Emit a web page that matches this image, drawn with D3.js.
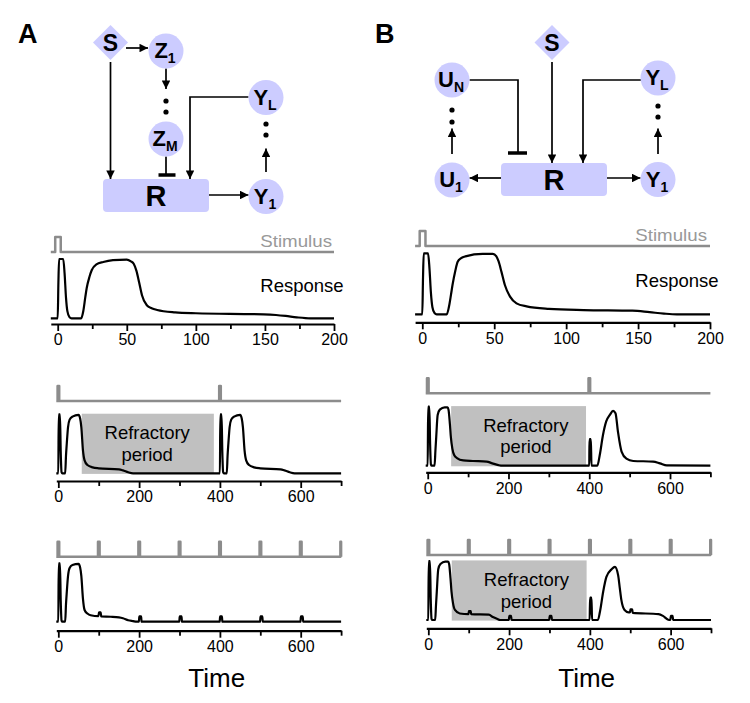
<!DOCTYPE html>
<html>
<head>
<meta charset="utf-8">
<script src="https://cdn.jsdelivr.net/npm/d3@7"></script>
<style>
  body { margin: 0; background: #fff; }
  svg { display: block; font-family: "Liberation Sans", Arial, sans-serif; }
</style>
</head>
<body>
<div class="canvas"></div>
<script>
// tick values of the two time scales
const shortMajorTicks = [0, 50, 100, 150, 200];
const shortMinorTicks = [25, 75, 125, 175];
const longMajorTicks = [0, 200, 400, 600];
const longMinorTicks = [100, 300, 500, 700];

// stimulus pulse onsets and pulse length (time units)
const pulsesSingle = [0];
const pulsesPair = [0, 400];
const pulsesTrain = [0, 100, 200, 300, 400, 500, 600, 700];
const pulseSpan = [-1.8, 2.2];

// responses, [time, normalised level]
const responseA1 = [[-5,0],[0,0],[0.5,0.6],[1,1],[4,1],[5,0.75],[6,0.35],[7,0.12],[8.5,0.02],[10,0],[17,0],[18.5,0.12],[20,0.36],[21,0.51],[23,0.7],[24.6,0.81],[28,0.91],[33,0.95],[40,0.98],[50,0.99],[53,0.96],[55,0.92],[57,0.8],[59,0.6],[61,0.39],[64.5,0.22],[68,0.17],[72,0.14],[85,0.1],[100,0.085],[149,0.067],[158,0.056],[165,0.04],[173,0.017],[183,0],[200,0]];
const responseB1 = [[-5,0],[0,0],[0.5,0.6],[1,1],[4,1],[5,0.75],[6,0.35],[7,0.12],[8.5,0.02],[10,0],[17,0],[18.5,0.12],[20,0.33],[21,0.48],[23,0.72],[24.6,0.86],[27,0.92],[30,0.95],[42,0.99],[49,0.99],[51.5,0.95],[53,0.87],[55,0.7],[57.4,0.48],[61,0.29],[65.5,0.18],[72.5,0.13],[88,0.09],[112,0.07],[146,0.06],[158,0.035],[168,0.012],[177,0],[200,0]];
const responseA2 = [[-5,0],[0,0],[1,1],[4,1],[6,0.35],[8,0.02],[10,0],[17,0],[19,0.3],[21,0.51],[24,0.78],[28,0.91],[35,0.96],[50,0.99],[54,0.93],[57,0.78],[61,0.39],[65,0.22],[72,0.14],[85,0.1],[100,0.085],[150,0.067],[160,0.05],[173,0.017],[185,0],[400,0],[401,1],[404,1],[406,0.35],[408,0.02],[410,0],[417,0],[419,0.3],[421,0.51],[424,0.78],[428,0.91],[435,0.96],[450,0.99],[454,0.93],[457,0.78],[461,0.39],[465,0.22],[472,0.14],[485,0.1],[500,0.085],[550,0.067],[560,0.05],[573,0.017],[585,0],[700,0]];
const responseB2 = [[-5,0],[0,0],[1,1],[4,1],[6,0.35],[8,0.02],[10,0],[17,0],[19,0.25],[21,0.48],[24.6,0.86],[30,0.95],[42,0.99],[49,0.99],[51.5,0.95],[55,0.7],[57.4,0.48],[61,0.29],[65.5,0.18],[72.5,0.13],[88,0.09],[112,0.08],[146,0.07],[160,0.04],[175,0.01],[185,0],[400,0],[400.5,0.45],[404,0.45],[405.5,0],[420,0],[426,0.18],[434,0.52],[442,0.75],[451,0.86],[459,0.93],[465,0.89],[471,0.58],[480,0.24],[492,0.12],[509,0.08],[558,0.07],[575,0.04],[592,0.005],[700,0]];
const responseA3 = [[-5,0],[0,0],[1,1],[4,1],[6,0.35],[8,0.02],[10,0],[17,0],[19,0.3],[21,0.51],[24,0.78],[28,0.92],[35,0.97],[50,0.99],[54,0.93],[57,0.78],[61,0.39],[65,0.2],[72,0.14],[80,0.11],[99.5,0.095],[100.5,0.16],[105,0.16],[106,0.09],[130,0.085],[150,0.075],[160,0.06],[173,0.025],[185,0.01],[194,0],[199.5,0],[200.5,0.09],[205,0.09],[206,0],[299.5,0],[300.5,0.09],[305,0.09],[306,0],[399.5,0],[400.5,0.09],[405,0.09],[406,0],[499.5,0],[500.5,0.09],[505,0.09],[506,0],[599.5,0],[600.5,0.09],[605,0.09],[606,0],[700,0]];
const responseB3 = [[-5,0],[0,0],[1,1],[4,1],[6,0.35],[8,0.02],[10,0],[17,0],[19,0.25],[21,0.48],[24.6,0.86],[30,0.95],[42,0.99],[49,0.99],[51.5,0.95],[55,0.7],[57.4,0.48],[61,0.29],[66,0.17],[78,0.11],[99.5,0.1],[100.5,0.15],[105,0.15],[106,0.1],[150,0.09],[160,0.05],[170,0.02],[178,0],[199.5,0],[200.5,0.07],[205,0.07],[206,0],[299.5,0],[300.5,0.07],[305,0.07],[306,0],[399.5,0],[400.5,0.38],[404,0.38],[405.5,0],[420,0],[425,0.14],[433,0.48],[441,0.73],[454,0.86],[462,0.9],[470,0.76],[474,0.55],[478,0.34],[486,0.17],[496,0.13],[499.5,0.13],[500.5,0.18],[505,0.18],[506,0.12],[570,0.1],[581,0.07],[594,0.005],[599.5,0],[600.5,0.07],[605,0.07],[606,0],[700,0]];

// refractory periods (time)
const refractoryA2 = [58, 385];
const refractoryB2 = [58, 392];
const refractoryB3 = [58, 392];

const svg = d3.select('.canvas')
  .append('svg')
  .attr('width', 750)
  .attr('height', 703);

const defs = svg.append('defs');
defs.append('marker')
  .attr('id', 'arrow')
  .attr('viewBox', '0 0 10 10')
  .attr('refX', 10)
  .attr('refY', 5)
  .attr('markerWidth', 9)
  .attr('markerHeight', 8.5)
  .attr('markerUnits', 'userSpaceOnUse')
  .attr('orient', 'auto')
  .append('path')
  .attr('d', 'M0,0L10,5L0,10Z')
  .attr('fill', '#000');

const lavender = '#ccccff';

// ---------- network diagrams ----------
const diagrams = [
  {
    letter: 'A', letterX: 18, rect: [103, 179, 106, 33],
    nodes: [
      { shape: 'diamond', label: 'S', x: 110.5, y: 42.5 },
      { label: 'Z', sub: '1', x: 166, y: 51 },
      { label: 'Z', sub: 'M', x: 166, y: 139 },
      { label: 'Y', sub: 'L', x: 266, y: 97.5 },
      { label: 'Y', sub: '1', x: 266, y: 196.5 }
    ],
    arrows: [
      [[126, 48], [148, 48]],
      [[166, 68.5], [166, 89]],
      [[110.5, 62], [110.5, 179]],
      [[248.5, 97], [190, 97], [190, 179]],
      [[209, 195], [248.5, 195]],
      [[266, 172], [266, 148.5]]
    ],
    inhibits: [ { path: [[166, 156.5], [166, 175]], bar: [158.5, 175.5] } ],
    dots: [[166, 101], [166, 112], [266, 124], [266, 135]]
  },
  {
    letter: 'B', letterX: 375, rect: [501, 163, 106, 33],
    nodes: [
      { shape: 'diamond', label: 'S', x: 552, y: 42.5 },
      { label: 'U', sub: 'N', x: 452, y: 80 },
      { label: 'U', sub: '1', x: 452, y: 180 },
      { label: 'Y', sub: 'L', x: 658, y: 78 },
      { label: 'Y', sub: '1', x: 658, y: 179.5 }
    ],
    arrows: [
      [[552, 62], [552, 163]],
      [[641, 80], [583, 80], [583, 163]],
      [[501, 178], [469.5, 178]],
      [[607, 178], [640.5, 178]],
      [[452, 154], [452, 128.5]],
      [[658, 154], [658, 128.5]]
    ],
    inhibits: [ { path: [[469.5, 80], [518, 80], [518, 153]], bar: [508, 527] } ],
    dots: [[452, 110], [452, 122], [658, 106], [658, 117]]
  }
];

const segLine = d3.line();

diagrams.forEach(dg => {
  const g = svg.append('g');

  g.append('text')
    .attr('x', dg.letterX)
    .attr('y', 43)
    .attr('font-size', 27)
    .attr('font-weight', 'bold')
    .text(dg.letter);

  g.selectAll('.arr')
    .data(dg.arrows)
    .enter()
    .append('path')
    .attr('d', d => segLine(d))
    .attr('fill', 'none')
    .attr('stroke', '#000')
    .attr('stroke-width', 1.7);

  // arrowheads drawn as markers on the same paths
  g.selectAll('.arr-head')
    .data(dg.arrows)
    .enter()
    .append('path')
    .attr('d', d => segLine(d.slice(-2)))
    .attr('fill', 'none')
    .attr('stroke', 'none')
    .attr('marker-end', 'url(#arrow)');

  dg.inhibits.forEach(inh => {
    g.append('path')
      .attr('d', segLine(inh.path))
      .attr('fill', 'none')
      .attr('stroke', '#000')
      .attr('stroke-width', 1.7);
    const end = inh.path[inh.path.length - 1];
    g.append('line')
      .attr('x1', inh.bar[0]).attr('x2', inh.bar[1])
      .attr('y1', end[1]).attr('y2', end[1])
      .attr('stroke', '#000')
      .attr('stroke-width', 3.5);
  });

  g.selectAll('.dot')
    .data(dg.dots)
    .enter()
    .append('circle')
    .attr('cx', d => d[0])
    .attr('cy', d => d[1])
    .attr('r', 2.6)
    .attr('fill', '#000');

  const [rx, ry, rw, rh] = dg.rect;
  g.append('rect')
    .attr('x', rx).attr('y', ry)
    .attr('width', rw).attr('height', rh)
    .attr('rx', 4)
    .attr('fill', lavender);
  g.append('text')
    .attr('x', rx + rw / 2)
    .attr('y', ry + rh / 2 + 10.5)
    .attr('text-anchor', 'middle')
    .attr('font-size', 29)
    .attr('font-weight', 'bold')
    .text('R');

  dg.nodes.forEach(n => {
    if (n.shape === 'diamond') {
      g.append('path')
        .attr('d', `M${n.x},${n.y - 17.5}L${n.x + 17.5},${n.y}L${n.x},${n.y + 17.5}L${n.x - 17.5},${n.y}Z`)
        .attr('fill', lavender);
      g.append('text')
        .attr('x', n.x)
        .attr('y', n.y + 8)
        .attr('text-anchor', 'middle')
        .attr('font-size', 23)
        .attr('font-weight', 'bold')
        .text(n.label);
    } else {
      g.append('circle')
        .attr('cx', n.x).attr('cy', n.y)
        .attr('r', 17.5)
        .attr('fill', lavender);
      const t = g.append('text')
        .attr('x', n.x - 1)
        .attr('y', n.y + 7)
        .attr('text-anchor', 'middle')
        .attr('font-size', 22)
        .attr('font-weight', 'bold');
      t.append('tspan').text(n.label);
      t.append('tspan')
        .attr('font-size', 14)
        .attr('dy', 5)
        .text(n.sub);
    }
  });
});

// ---------- time traces ----------
const traces = [
  { domain: [-5, 200], xRange: [50.8, 334], axisY: 324, stimY: 252, respY: [318.3, 259],
    pulses: pulsesSingle, response: responseA1, major: shortMajorTicks, minor: shortMinorTicks,
    stimLabel: [332, 247], respLabel: [302, 292] },
  { domain: [-5, 200], xRange: [415.1, 710], axisY: 322.3, stimY: 246, respY: [314.3, 253.3],
    pulses: pulsesSingle, response: responseB1, major: shortMajorTicks, minor: shortMinorTicks,
    stimLabel: [707, 241], respLabel: [677, 287] },
  { domain: [-5, 700], xRange: [56.3, 341.1], axisY: 481, stimY: 401, respY: [473.3, 414.3],
    pulses: pulsesPair, response: responseA2, major: longMajorTicks, minor: longMinorTicks,
    refractory: refractoryA2, refLabelT: 220 },
  { domain: [-5, 700], xRange: [425.7, 710.4], axisY: 472.3, stimY: 393.3, respY: [465.7, 406.7],
    pulses: pulsesPair, response: responseB2, major: longMajorTicks, minor: longMinorTicks,
    refractory: refractoryB2, refLabelT: 243 },
  { domain: [-5, 700], xRange: [56.3, 341.1], axisY: 630.7, stimY: 556.7, respY: [621.7, 563.3],
    pulses: pulsesTrain, response: responseA3, major: longMajorTicks, minor: longMinorTicks,
    timeLabel: true },
  { domain: [-5, 700], xRange: [426.3, 711], axisY: 628.3, stimY: 555, respY: [620, 561],
    pulses: pulsesTrain, response: responseB3, major: longMajorTicks, minor: longMinorTicks,
    refractory: refractoryB3, refLabelT: 243, timeLabel: true }
];

traces.forEach(p => {
  const g = svg.append('g');
  const x = d3.scaleLinear().domain(p.domain).range(p.xRange);
  const y = d3.scaleLinear().domain([0, 1]).range(p.respY);
  const ys = d3.scaleLinear().domain([0, 1]).range([p.stimY, p.stimY - 15]);

  // stimulus trace built from pulse onsets
  const t0 = p.domain[0], t1 = p.domain[1];
  const stim = [[t0, 0]];
  p.pulses.forEach(on => {
    const a = on + pulseSpan[0];
    const b = Math.min(on + pulseSpan[1], t1);
    stim.push([a, 0], [a, 1], [b, 1], [b, 0]);
  });
  stim.push([t1, 0]);

  g.append('path')
    .attr('d', d3.line().x(d => x(d[0])).y(d => ys(d[1]))(stim))
    .attr('fill', 'none')
    .attr('stroke', '#8c8c8c')
    .attr('stroke-width', 2.5)
    .attr('stroke-linejoin', 'round');

  if (p.stimLabel) {
    g.append('text')
      .attr('transform', `translate(${p.stimLabel[0]},${p.stimLabel[1]}) scale(1.17,1)`)
      .attr('text-anchor', 'end')
      .attr('font-size', 16)
      .attr('fill', '#999')
      .text('Stimulus');
  }

  if (p.refractory) {
    g.append('rect')
      .attr('x', x(p.refractory[0]))
      .attr('y', y(1.01))
      .attr('width', x(p.refractory[1]) - x(p.refractory[0]))
      .attr('height', y(-0.01) - y(1.01))
      .attr('fill', '#c0c0c0');
    const lt = g.append('text')
      .attr('text-anchor', 'middle')
      .attr('font-size', 18.5);
    lt.append('tspan')
      .attr('x', x(p.refLabelT))
      .attr('y', y(0.5) - 4.5)
      .text('Refractory');
    lt.append('tspan')
      .attr('x', x(p.refLabelT))
      .attr('y', y(0.5) + 17)
      .text('period');
  }

  g.append('path')
    .attr('d', d3.line().x(d => x(d[0])).y(d => y(d[1])).curve(d3.curveMonotoneX)(p.response))
    .attr('fill', 'none')
    .attr('stroke', '#000')
    .attr('stroke-width', 2.2)
    .attr('stroke-linejoin', 'round');

  if (p.respLabel) {
    g.append('text')
      .attr('x', p.respLabel[0])
      .attr('y', p.respLabel[1])
      .attr('text-anchor', 'middle')
      .attr('font-size', 18.5)
      .text('Response');
  }

  // axis: minor ticks, then labelled major ticks
  const minorAxis = g.append('g')
    .attr('transform', `translate(0,${p.axisY})`)
    .call(d3.axisBottom(x).tickValues(p.minor).tickSize(5).tickSizeOuter(0).tickFormat(''));
  minorAxis.select('.domain').remove();
  minorAxis.selectAll('line').attr('stroke-width', 1.8);

  const majorAxis = g.append('g')
    .attr('transform', `translate(0,${p.axisY})`)
    .call(d3.axisBottom(x).tickValues(p.major).tickSize(7).tickSizeOuter(0).tickFormat(d3.format('d')));
  majorAxis.attr('font-family', null).attr('font-size', 16);
  majorAxis.select('.domain').attr('stroke-width', 2.2);
  majorAxis.selectAll('line').attr('stroke-width', 1.8);
  majorAxis.selectAll('text').attr('fill', '#000');

  if (p.timeLabel) {
    g.append('text')
      .attr('x', (p.xRange[0] + p.xRange[1]) / 2 + 18)
      .attr('y', 686.7)
      .attr('text-anchor', 'middle')
      .attr('font-size', 26)
      .text('Time');
  }
});
</script>
</body>
</html>
